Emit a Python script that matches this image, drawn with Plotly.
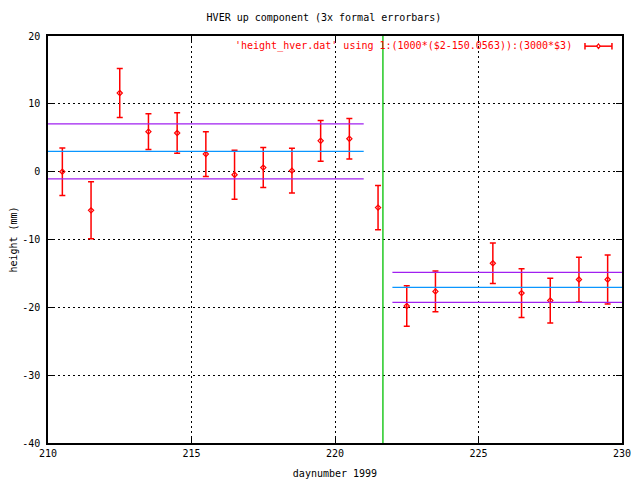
import plotly.graph_objects as go

# ---- data ----
days = [210.5, 211.5, 212.5, 213.5, 214.5, 215.5, 216.5, 217.5, 218.5, 219.5,
        220.5, 221.5, 222.5, 223.5, 225.5, 226.5, 227.5, 228.5, 229.5]
height = [0.0, -5.7, 11.6, 5.9, 5.7, 2.6, -0.45, 0.6, 0.15, 4.55,
          4.85, -5.3, -19.8, -17.65, -13.5, -17.9, -19.0, -15.9, -15.9]
err = [3.5, 4.2, 3.6, 2.65, 3.0, 3.3, 3.6, 2.95, 3.3, 3.0,
       3.0, 3.25, 3.0, 3.0, 3.0, 3.6, 3.3, 3.3, 3.6]

seg1_x = [210, 221]
seg1_mean, seg1_sd = 3.0, 4.05
seg2_x = [222, 230]
seg2_mean, seg2_sd = -17.06, 2.2
break_day = 221.67

x_ticks = [210, 215, 220, 225, 230]
y_ticks = [-40, -30, -20, -10, 0, 10, 20]

title_text = "HVER up component (3x formal errorbars)"
legend_text = "'height_hver.dat' using 1:(1000*($2-150.0563)):(3000*$3)"
x_label = "daynumber 1999"
y_label = "height (mm)"

RED = "#ff0000"
PURPLE = "#a020f0"
BLUE = "#0a96ff"
GREEN = "#00c000"
FONT = "DejaVu Sans Mono"

fig = go.Figure()

fig.add_trace(go.Scatter(
    x=days, y=height, mode="markers",
    marker=dict(symbol="diamond-open", size=4, color=RED, line=dict(width=1.2, color=RED)),
    error_y=dict(type="data", array=err, visible=True, color=RED, thickness=1.5, width=3),
    showlegend=False, hoverinfo="skip"))

for xs, m, s in [(seg1_x, seg1_mean, seg1_sd), (seg2_x, seg2_mean, seg2_sd)]:
    fig.add_trace(go.Scatter(x=xs, y=[m + s] * 2, mode="lines",
                             line=dict(color=PURPLE, width=1.3), showlegend=False))
    fig.add_trace(go.Scatter(x=xs, y=[m] * 2, mode="lines",
                             line=dict(color=BLUE, width=1.3), showlegend=False))
    fig.add_trace(go.Scatter(x=xs, y=[m - s] * 2, mode="lines",
                             line=dict(color=PURPLE, width=1.3), showlegend=False))

fig.add_trace(go.Scatter(x=[break_day, break_day], y=[y_ticks[0], y_ticks[-1]], mode="lines",
                         line=dict(color=GREEN, width=1.3), showlegend=False))

# legend replica (text + horizontal errorbar sample)
ly = 0.975
fig.add_annotation(xref="paper", yref="paper", x=0.917, y=ly, xanchor="right", yanchor="middle",
                   text=legend_text, showarrow=False, font=dict(family=FONT, size=10, color=RED))
fig.add_shape(type="line", xref="paper", yref="paper", x0=0.9355, x1=0.9825, y0=ly, y1=ly,
              line=dict(color=RED, width=1.5))
for xx in [0.9355, 0.9825]:
    fig.add_shape(type="line", xref="paper", yref="paper", x0=xx, x1=xx, y0=ly - 0.008, y1=ly + 0.008,
                  line=dict(color=RED, width=1.5))
fig.add_shape(type="path", xref="paper", yref="paper",
              path="M 0.9560 0.975 L 0.9590 0.9805 L 0.9620 0.975 L 0.9590 0.9695 Z",
              line=dict(color=RED, width=1.2), fillcolor="white")

axis_common = dict(showline=True, linecolor="black", linewidth=1.5, mirror="allticks",
                   ticks="inside", ticklen=6, tickcolor="black", tickwidth=1,
                   showgrid=True, gridcolor="black", griddash="2px,3px", gridwidth=1,
                   zeroline=False, automargin=False,
                   tickfont=dict(family=FONT, size=10, color="black"))

fig.update_xaxes(range=[210, 230], tickvals=x_ticks, ticktext=[str(v) for v in x_ticks],
                 title=dict(text=x_label, font=dict(family=FONT, size=10, color="black"), standoff=12),
                 **axis_common)
fig.update_yaxes(range=[-40, 20], tickvals=y_ticks, ticktext=[str(v) for v in y_ticks],
                 title=dict(text=y_label, font=dict(family=FONT, size=10, color="black"), standoff=6),
                 ticklabelstandoff=4, **axis_common)

# page body has an 8px margin, so the figure is 8px smaller and margins compensate
fig.update_layout(
    width=632, height=472,
    margin=dict(l=40, r=18, t=28, b=37, autoexpand=False),
    paper_bgcolor="white", plot_bgcolor="white",
    title=dict(text=title_text, x=0.5, xanchor="center", y=0.979, yanchor="middle",
               font=dict(family=FONT, size=10, color="black")),
    showlegend=False,
)

fig.write_html("out.html")
